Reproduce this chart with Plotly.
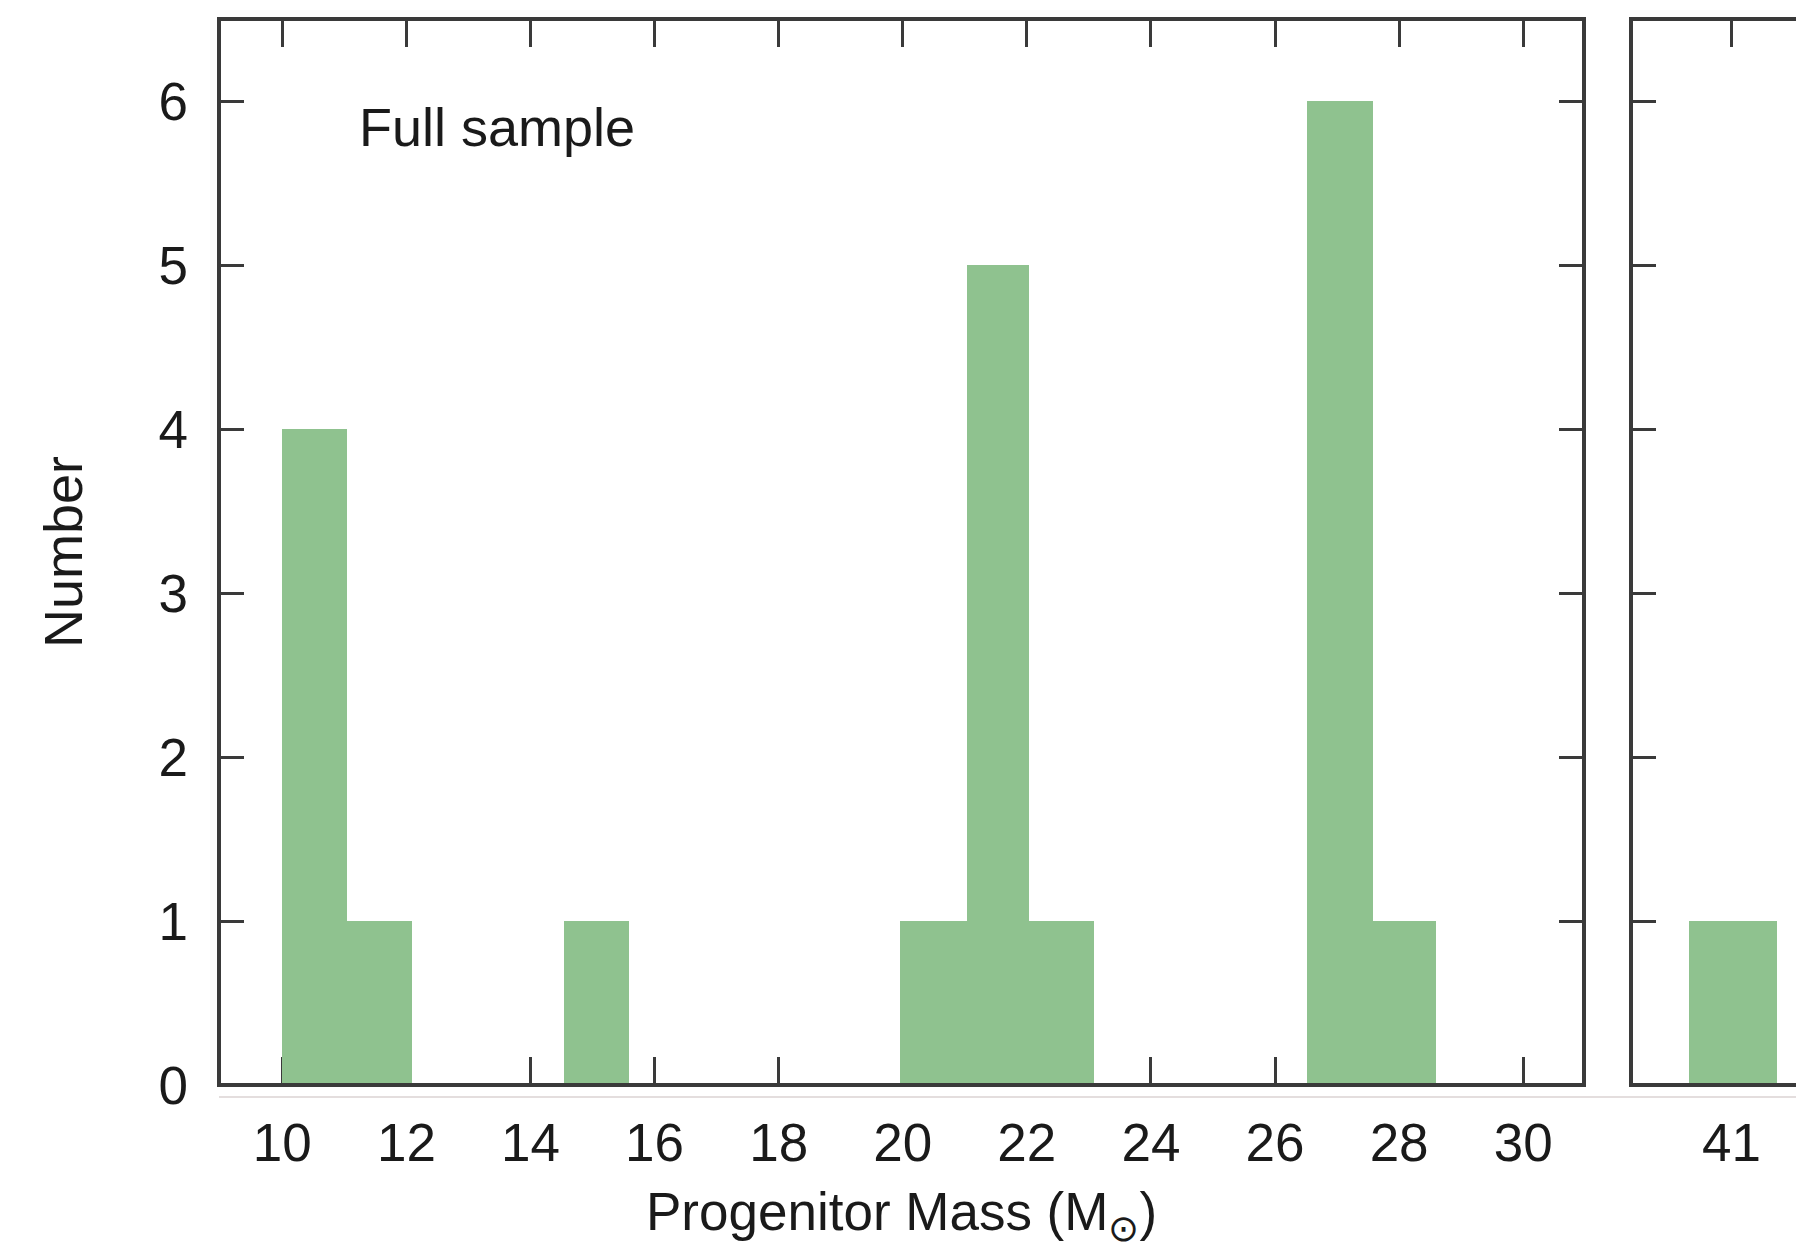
import plotly.graph_objects as go

# Left panel histogram (progenitor mass bins, counts)
left_bin_lo = [10.0, 11.04, 14.54, 19.96, 21.04, 22.04, 26.51, 27.58]
left_bin_hi = [11.04, 12.09, 15.58, 21.04, 22.04, 23.09, 27.58, 28.59]
left_counts = [4, 1, 1, 1, 5, 1, 6, 1]

# Right panel histogram
right_bin_lo = [40.31]
right_bin_hi = [41.74]
right_counts = [1]

x_ticks_left = [10, 12, 14, 16, 18, 20, 22, 24, 26, 28, 30]
x_ticks_right = [41]
y_ticks = [0, 1, 2, 3, 4, 5, 6]

BAR = "#8fc28f"
FRAME = "#3a3a3a"
TXT = "#1a1a1a"
FONT = "Liberation Sans, Arial, sans-serif"

def centers(lo, hi):
    return [(a + b) / 2 for a, b in zip(lo, hi)]

def widths(lo, hi):
    return [b - a for a, b in zip(lo, hi)]

fig = go.Figure()
fig.add_trace(go.Bar(x=centers(left_bin_lo, left_bin_hi), y=left_counts,
                     width=widths(left_bin_lo, left_bin_hi),
                     marker=dict(color=BAR, line=dict(width=0)),
                     xaxis="x", yaxis="y", showlegend=False))
fig.add_trace(go.Bar(x=centers(right_bin_lo, right_bin_hi), y=right_counts,
                     width=widths(right_bin_lo, right_bin_hi),
                     marker=dict(color=BAR, line=dict(width=0)),
                     xaxis="x2", yaxis="y2", showlegend=False))

OFF = 8  # page body margin
W, H = 1804 - OFF, 1251 - OFF
ml, mr, mt, mb = 219 - OFF, 0, 19 - OFF, 166
pw = W - ml - mr
ph = H - mt - mb

axis_common = dict(showgrid=False, zeroline=False, showline=False,
                   ticks="inside", tickcolor=FRAME, tickwidth=3,
                   layer="below traces", automargin=False,
                   tickfont=dict(family=FONT, size=53, color=TXT))

fig.update_layout(
    width=W, height=H,
    margin=dict(l=ml, r=mr, t=mt, b=mb),
    paper_bgcolor="white", plot_bgcolor="white",
    bargap=0,
    xaxis=dict(domain=[0, (1584 - OFF - ml) / pw], range=[8.98, 30.98],
               tickvals=x_ticks_left, ticklen=28, mirror="ticks",
               ticklabelstandoff=22, **axis_common),
    yaxis=dict(domain=[0, 1], range=[0, 6.5], tickvals=y_ticks, ticklen=25,
               mirror="ticks", ticklabelstandoff=30, **axis_common),
    xaxis2=dict(domain=[(1631 - OFF - ml) / pw, 1], range=[39.38, 42.17],
                tickvals=x_ticks_right, ticklen=28, mirror="ticks",
                ticklabelstandoff=22, anchor="y2", **axis_common),
    yaxis2=dict(domain=[0, 1], range=[0, 6.5], tickvals=y_ticks, ticklen=25,
                showticklabels=False, anchor="x2", **axis_common),
)

# faint rule just under the frames
fig.add_shape(type="line", xref="paper", yref="paper",
              x0=0, x1=1.05, y0=-12 / ph, y1=-12 / ph,
              line=dict(color="#e4dede", width=2), layer="below")

# frames
fig.add_shape(type="rect", xref="x domain", yref="y domain", x0=0, x1=1, y0=0, y1=1,
              line=dict(color=FRAME, width=4), fillcolor="rgba(0,0,0,0)", layer="above")
fig.add_shape(type="rect", xref="x2 domain", yref="y2 domain", x0=0, x1=1.2, y0=0, y1=1,
              line=dict(color=FRAME, width=4), fillcolor="rgba(0,0,0,0)", layer="above")

# axis titles
fig.add_annotation(text="Progenitor Mass (M<sub>⊙</sub>)", xref="paper", yref="paper",
                   x=(901 - OFF - ml) / pw, y=-(1215 - OFF - (H - mb)) / ph,
                   xanchor="center", yanchor="middle", showarrow=False,
                   font=dict(family=FONT, size=53, color=TXT))
fig.add_annotation(text="Number", xref="paper", yref="paper",
                   x=(63 - OFF - ml) / pw, y=0.5, textangle=-90,
                   xanchor="center", yanchor="middle", showarrow=False,
                   font=dict(family=FONT, size=54, color=TXT))

fig.add_annotation(text="Full sample", xref="x", yref="y", x=11.2, y=5.84,
                   xanchor="left", yanchor="middle", showarrow=False,
                   font=dict(family=FONT, size=54, color=TXT))

fig.write_html("out.html")
